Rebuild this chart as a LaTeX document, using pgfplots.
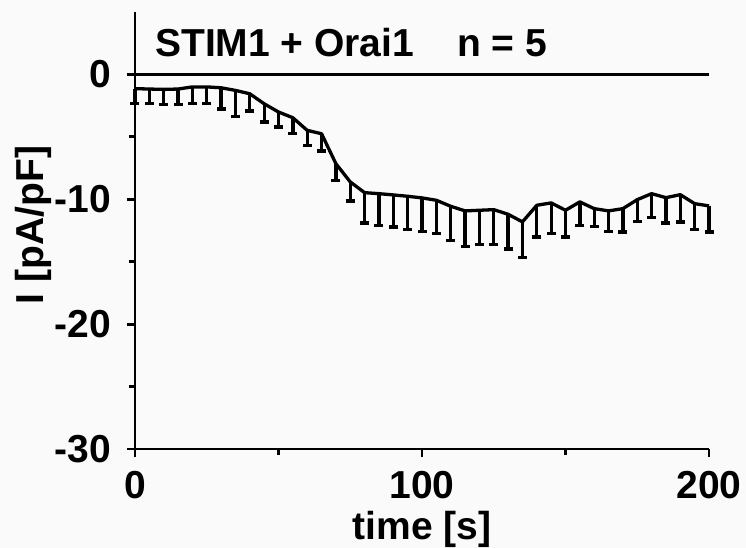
\documentclass[border=0pt]{standalone}
\usepackage{pgfplots}
\pgfplotsset{compat=1.18}
\usepackage{fontspec}
\setmainfont{Liberation Sans}
\definecolor{bg}{HTML}{FAFAFA}
\begin{document}
\begin{tikzpicture}[x=1pt,y=1pt]
\fill[bg] (-135,-99) rectangle (611,449);
\begin{axis}[
  at={(0,0)}, anchor=south west,
  scale only axis, width=574pt, height=437pt,
  xmin=0, xmax=200, ymin=-30, ymax=5,
  axis lines*=left,
  axis line style={line width=2.8pt, -},
  xtick={0,100,200}, minor xtick={50,150},
  ytick={-30,-20,-10,0}, minor ytick={-25,-15,-5},
  tick align=outside,
  major tick length=8pt, minor tick length=6pt,
  every tick/.style={black, line width=2.8pt},
  /pgf/number format/assume math mode=true,
  tick label style={font=\fontsize{39}{44}\selectfont\bfseries, inner sep=0pt},
  xticklabel style={anchor=north, yshift=-14pt},
  yticklabel style={anchor=east, xshift=-16pt},
  clip=false,
]
\addplot[black, line width=2.8pt] coordinates {(0,0) (200,0)};
\addplot[black, line width=3.3pt, line join=round,
  error bars/.cd, y dir=minus, y explicit,
  error mark=-,
  error bar style={line width=3.3pt, black},
  error mark options={black, rotate=90, line width=3.3pt, mark size=4.5pt}]
  table[x=t, y=y, y error=e] {
t y e
0 -1.14 1.20
5 -1.17 1.17
10 -1.20 1.22
15 -1.17 1.25
20 -1.00 1.34
25 -1.00 1.34
30 -1.07 1.70
35 -1.28 2.08
40 -1.55 1.38
45 -2.35 1.46
50 -3.01 1.20
55 -3.47 1.28
60 -4.48 1.20
65 -4.75 1.38
70 -7.15 1.33
75 -8.61 1.52
80 -9.47 2.42
85 -9.55 2.53
90 -9.65 2.56
95 -9.76 2.64
100 -9.89 2.67
105 -10.08 2.67
110 -10.56 2.72
115 -10.93 2.83
120 -10.88 2.75
125 -10.83 2.77
130 -11.20 2.77
135 -11.81 2.86
140 -10.48 2.53
145 -10.29 2.46
150 -10.88 2.13
155 -10.21 1.87
160 -10.75 1.41
165 -10.93 1.63
170 -10.75 1.86
175 -10.03 1.73
180 -9.55 1.92
185 -9.87 2.02
190 -9.63 2.18
195 -10.35 2.05
200 -10.53 2.08
};
\end{axis}
\node[anchor=base west, inner sep=0pt, font=\fontsize{39}{44}\selectfont\bfseries] at (20,392) {STIM1 + Orai1\hspace{43pt}n = 5};
\node[anchor=base, rotate=90, inner sep=0pt, font=\fontsize{39}{44}\selectfont\bfseries] at (-91,224) {I [pA/pF]};
\node[anchor=base, inner sep=0pt, font=\fontsize{39}{44}\selectfont\bfseries] at (287,-90) {time [s]};
\pgfresetboundingbox
\path[use as bounding box] (-135,-99) rectangle (611,449);
\end{tikzpicture}
\end{document}
